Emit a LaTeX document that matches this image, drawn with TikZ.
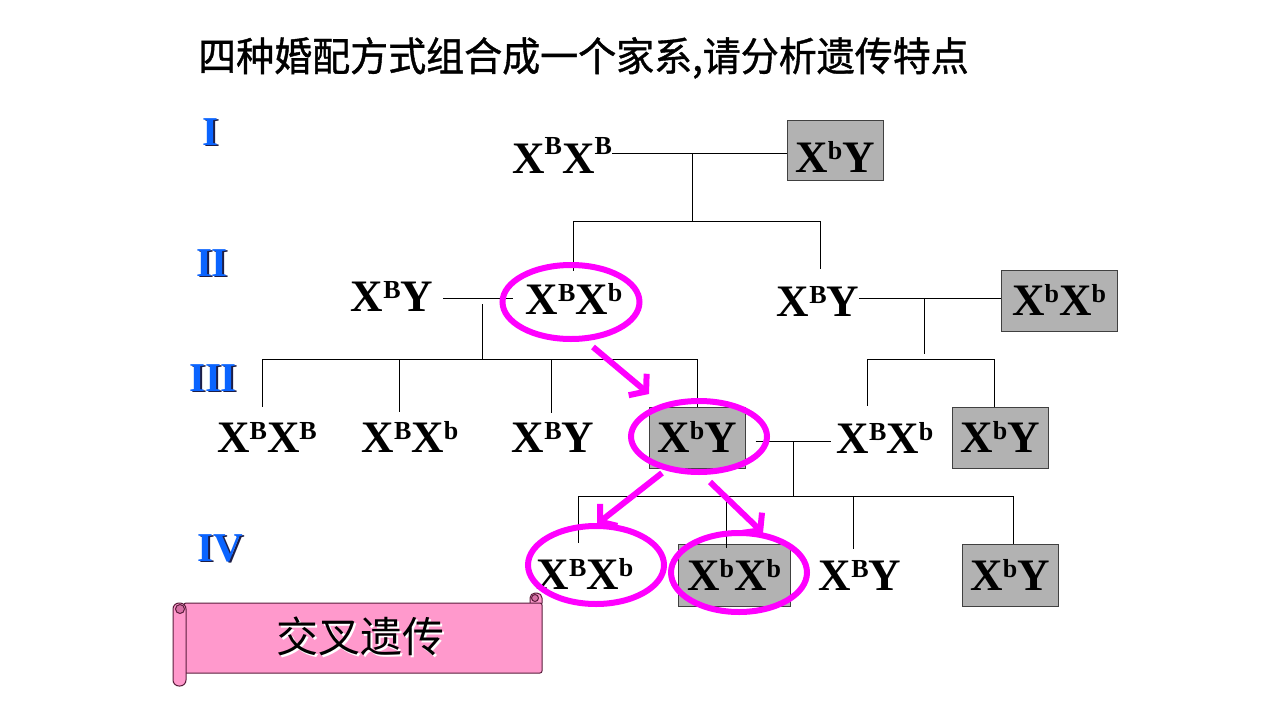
\documentclass[tikz,border=0pt]{standalone}
\usepackage{fontspec}
\usetikzlibrary{arrows.meta,shapes.geometric,calc}
\newfontfamily\gfont{Liberation Serif}
\newfontfamily\titlefont[FakeStretch=0.95,FakeBold=1]{Noto Sans CJK SC}
\newfontfamily\cjkfont{Noto Sans CJK SC}
\definecolor{mag}{RGB}{255,0,255}
\definecolor{boxgray}{RGB}{178,178,178}
\definecolor{romanblue}{RGB}{10,100,255}
\definecolor{romanshadow}{RGB}{30,30,70}
\definecolor{scrollpink}{RGB}{255,153,204}
\definecolor{scrolldark}{RGB}{214,112,165}
\definecolor{scrollline}{RGB}{90,30,60}
\newlength\suprs \setlength\suprs{13pt}
\newcommand\sx[1]{\raisebox{\suprs}{\fontsize{26}{26}\selectfont #1}}
\tikzset{
  geno/.style={inner sep=0pt, anchor=base, font=\gfont\bfseries\fontsize{45}{45}\selectfont},
  affected/.style={fill=boxgray, draw=black!75, line width=1pt, inner sep=0pt,
    text height=30pt, text depth=0pt, anchor=center, font=\gfont\bfseries\fontsize{45}{45}\selectfont},
  ring/.style={ellipse, draw=mag, line width=6pt, inner sep=0pt},
  ped/.style={line width=1pt, black},
  hl/.style={draw=mag, line width=6pt, -{Straight Barb[length=11pt,width=28pt]}},
  gen/.style={anchor=base, inner sep=0pt, text=romanblue, font=\gfont\bfseries\fontsize{41}{41}\selectfont},
  genshadow/.style={gen, text=romanshadow},
  scroll/.style={fill=scrollpink, draw=scrollline, line width=1pt},
}
\begin{document}
\begin{tikzpicture}[x=1pt,y=-1pt]
\useasboundingbox (0,0) rectangle (1280,720);
\fill[white] (0,0) rectangle (1280,720);

% title
\node[anchor=base west, inner sep=0pt, font=\titlefont\fontsize{40}{40}\selectfont] (title) at (198,71) {四种婚配方式组合成一个家系,请分析遗传特点};

% generation numerals
\node[genshadow] (r1s) at (212,146) {I};
\node[gen] (r1) at (210,145) {I};
\node[genshadow] (r2s) at (214,277) {II};
\node[gen] (r2) at (212,276) {II};
\node[genshadow] (r3s) at (215,392) {III};
\node[gen] (r3) at (213,391) {III};
\node[genshadow] (r4s) at (222,562) {IV};
\node[gen] (r4) at (220,561) {IV};

% generation I
\node[geno] (g1a) at (562,173) {\setlength\suprs{19pt}X\sx{B}X\sx{B}};
\node[affected, minimum width=96pt, minimum height=60pt, text height=44pt] (g1b) at (835,150) {X\sx{b}Y};

% generation II
\node[geno] (g2a) at (392,311) {X\sx{B}Y};
\node[geno] (g2b) at (574,314) {X\sx{B}X\sx{b}};
\node[geno] (g2c) at (818,316) {X\sx{B}Y};
\node[affected, minimum width=116pt, minimum height=61pt] (g2d) at (1059,300.5) {X\sx{b}X\sx{b}};

% generation III
\node[geno] (g3a) at (267,452) {X\sx{B}X\sx{B}};
\node[geno] (g3b) at (410,452) {X\sx{B}X\sx{b}};
\node[geno] (g3c) at (553,452) {X\sx{B}Y};
\node[affected, minimum width=96pt, minimum height=61pt] (g3d) at (697,437.5) {X\sx{b}Y};
\node[geno] (g3e) at (885,453) {X\sx{B}X\sx{b}};
\node[affected, minimum width=96pt, minimum height=61pt] (g3f) at (1000,437.5) {X\sx{b}Y};

% generation IV
\node[geno] (g4a) at (585,589) {X\sx{B}X\sx{b}};
\node[affected, minimum width=112pt, minimum height=62pt] (g4b) at (734,575) {X\sx{b}X\sx{b}};
\node[geno] (g4c) at (860,590) {X\sx{B}Y};
\node[affected, minimum width=96pt, minimum height=62pt] (g4d) at (1010,575) {X\sx{b}Y};

% pedigree lines: I
\coordinate (m1) at (692,153);
\coordinate (s1) at (692,221);
\coordinate (s1l) at (573,221);
\coordinate (s1r) at (820,221);
\draw[ped] (g1a.east |- m1) -- (g1b.west |- m1);
\draw[ped] (m1) -- (s1);
\draw[ped] (s1l) -- (s1r);
\draw[ped] (s1l) -- ($(s1l |- g2b.north)+(0,-12)$);
\draw[ped] (s1r) -- ($(s1r |- g2c.north)+(0,-17)$);

% pedigree lines: II left
\coordinate (m2l) at (482,298);
\coordinate (s2) at (482,359);
\coordinate (s2a) at (262,359);
\coordinate (s2b) at (399,359);
\coordinate (s2c) at (551,359);
\coordinate (s2d) at (697,359);
\draw[ped] ($(g2a.east |- m2l)+(10,0)$) -- ($(g2b.west |- m2l)+(-12,0)$);
\draw[ped] ($(m2l)+(0,6)$) -- (s2);
\draw[ped] (s2a) -- (s2d);
\draw[ped] (s2a) -- ($(s2a |- g3a.north)+(0,-15)$);
\draw[ped] (s2b) -- ($(s2b |- g3b.north)+(0,-9)$);
\draw[ped] (s2c) -- ($(s2c |- g3c.north)+(0,-9)$);
\draw[ped] (s2d) -- (s2d |- g3d.north);

% pedigree lines: II right
\coordinate (m2r) at (924,298);
\coordinate (m2rb) at (924,354);
\coordinate (s2e) at (867,359);
\coordinate (s2f) at (994,359);
\draw[ped] (g2c.east |- m2r) -- (g2d.west |- m2r);
\draw[ped] (m2r) -- (m2rb);
\draw[ped] (s2e) -- (s2f);
\draw[ped] (s2e) -- ($(s2e |- g3e.north)+(0,-16)$);
\draw[ped] (s2f) -- (s2f |- g3f.north);

% pedigree lines: III
\coordinate (m3) at (793,441);
\coordinate (s3) at (793,496);
\coordinate (s3a) at (578,496);
\coordinate (s3b) at (726,496);
\coordinate (s3c) at (853,496);
\coordinate (s3d) at (1013,496);
\draw[ped] ($(g3d.east |- m3)+(10,0)$) -- ($(g3e.west |- m3)+(-5,0)$);
\draw[ped] (m3) -- (s3);
\draw[ped] (s3a) -- (s3d);
\draw[ped] (s3a) -- ($(s3a |- g4a.north)+(0,-15)$);
\draw[ped] (s3b) -- ($(s3b |- g4b.north)+(0,4)$);
\draw[ped] (s3c) -- ($(s3c |- g4c.north)+(0,-11)$);
\draw[ped] (s3d) -- (s3d |- g4d.north);

% highlight rings
\node[ring, minimum width=137pt, minimum height=74pt] (e2) at (571,302) {};
\node[ring, minimum width=136pt, minimum height=71pt] (e3) at (699,436.5) {};
\node[ring, minimum width=136pt, minimum height=78pt] (e4a) at (596,565) {};
\node[ring, minimum width=136pt, minimum height=79pt] (e4b) at (739,572.5) {};

% highlight arrows
\coordinate (a1s) at (593,347);
\coordinate (a1e) at (649,394);
\coordinate (a2s) at (662,473);
\coordinate (a2e) at (597,524);
\coordinate (a3s) at (710,482);
\coordinate (a3e) at (763,533);
\draw[hl] (a1s) -- (a1e);
\draw[hl] (a2s) -- (a2e);
\draw[hl] (a3s) -- (a3e);

% scroll
\filldraw[scroll, rounded corners=5pt] (530,593) rectangle (542,608);
\filldraw[scroll, fill=scrolldark] (535,598) circle[radius=3.5pt];
\filldraw[scroll, rounded corners=2pt] (184,603) rectangle (542,673);
\filldraw[scroll, rounded corners=6pt] (173,603) rectangle (186,686);
\filldraw[scroll, fill=scrolldark] (180,609) circle[radius=4.5pt];
\node[inner sep=0pt, text=white, font=\cjkfont\fontsize{42}{42}\selectfont] (banners) at (362,638) {交叉遗传};
\node[inner sep=0pt, font=\cjkfont\fontsize{42}{42}\selectfont] (banner) at (360,636) {交叉遗传};
\end{tikzpicture}
\end{document}
